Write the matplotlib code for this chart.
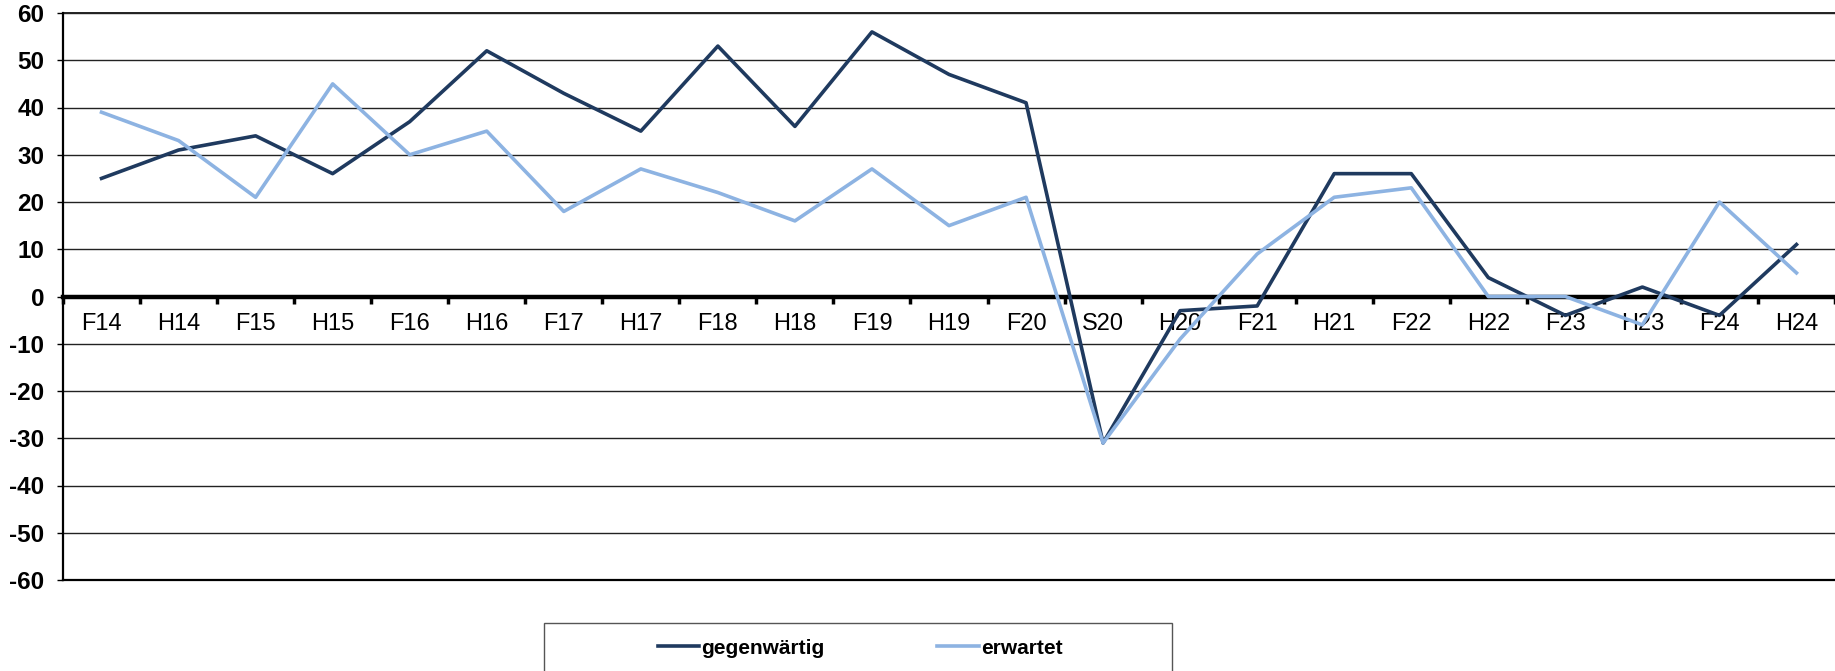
import matplotlib.pyplot as plt
from matplotlib.patches import Rectangle
from matplotlib.ticker import FixedLocator

plt.rcParams['font.family'] = ['Liberation Sans', 'DejaVu Sans']

categories = ['F14', 'H14', 'F15', 'H15', 'F16', 'H16', 'F17', 'H17', 'F18', 'H18',
              'F19', 'H19', 'F20', 'S20', 'H20', 'F21', 'H21', 'F22', 'H22', 'F23',
              'H23', 'F24', 'H24']
gegenwaertig = [25, 31, 34, 26, 37, 52, 43, 35, 53, 36, 56, 47, 41, -31, -3, -2,
                26, 26, 4, -4, 2, -4, 11]
erwartet = [39, 33, 21, 45, 30, 35, 18, 27, 22, 16, 27, 15, 21, -31, -9, 9,
            21, 23, 0, 0, -6, 20, 5]
y_ticks = list(range(-60, 61, 10))

fig = plt.figure(figsize=(18.35, 6.71), dpi=100)
ax = fig.add_axes([63 / 1835, 91 / 671, 1 - 63 / 1835, 567 / 671])

x = list(range(len(categories)))
ax.plot(x, gegenwaertig, color='#1f3a5f', lw=2.6, label='gegenwärtig', zorder=4)
ax.plot(x, erwartet, color='#8db3e2', lw=2.6, label='erwartet', zorder=4)

ax.set_xlim(-0.5, len(categories) - 0.5)
ax.set_ylim(-60, 60)

# gridlines
for v in y_ticks:
    ax.axhline(v, color='#222222', lw=1.0, zorder=1)
ax.axhline(-60, color='black', lw=1.6, zorder=2, clip_on=False)
ax.axhline(60, color='#222222', lw=1.4, zorder=2, clip_on=False)

ax.spines['top'].set_visible(False)
ax.spines['right'].set_visible(False)
ax.spines['left'].set_linewidth(1.6)
ax.spines['bottom'].set_position(('data', 0))
ax.spines['bottom'].set_linewidth(3.2)
ax.spines['bottom'].set_zorder(3)

ax.set_yticks(y_ticks)
ax.set_yticklabels([str(v) for v in y_ticks], fontsize=17.5, fontweight='bold')
ax.tick_params(axis='y', direction='out', length=4.5, width=1, pad=9)

ax.set_xticks(x)
ax.set_xticklabels(categories, fontsize=17)
ax.xaxis.set_minor_locator(FixedLocator([i - 0.5 for i in range(len(categories) + 1)]))
ax.tick_params(axis='x', which='major', length=0, pad=12)
ax.tick_params(axis='x', which='minor', direction='out', length=5, width=2.5)

# legend box (cut at bottom edge like the original)
box = Rectangle((544 / 1835, -0.1), 628 / 1835, 0.1 + 48 / 671,
                transform=fig.transFigure, fill=False, edgecolor='#555555',
                lw=1.0, clip_on=False)
fig.patches.append(box)
fig.legend(loc='center', bbox_to_anchor=(860 / 1835, 1 - 648 / 671), ncol=2,
           frameon=False, prop={'weight': 'bold', 'size': 15},
           handlelength=2.0, handletextpad=0.1, columnspacing=5.4)

fig.savefig('out.png', dpi=100)
